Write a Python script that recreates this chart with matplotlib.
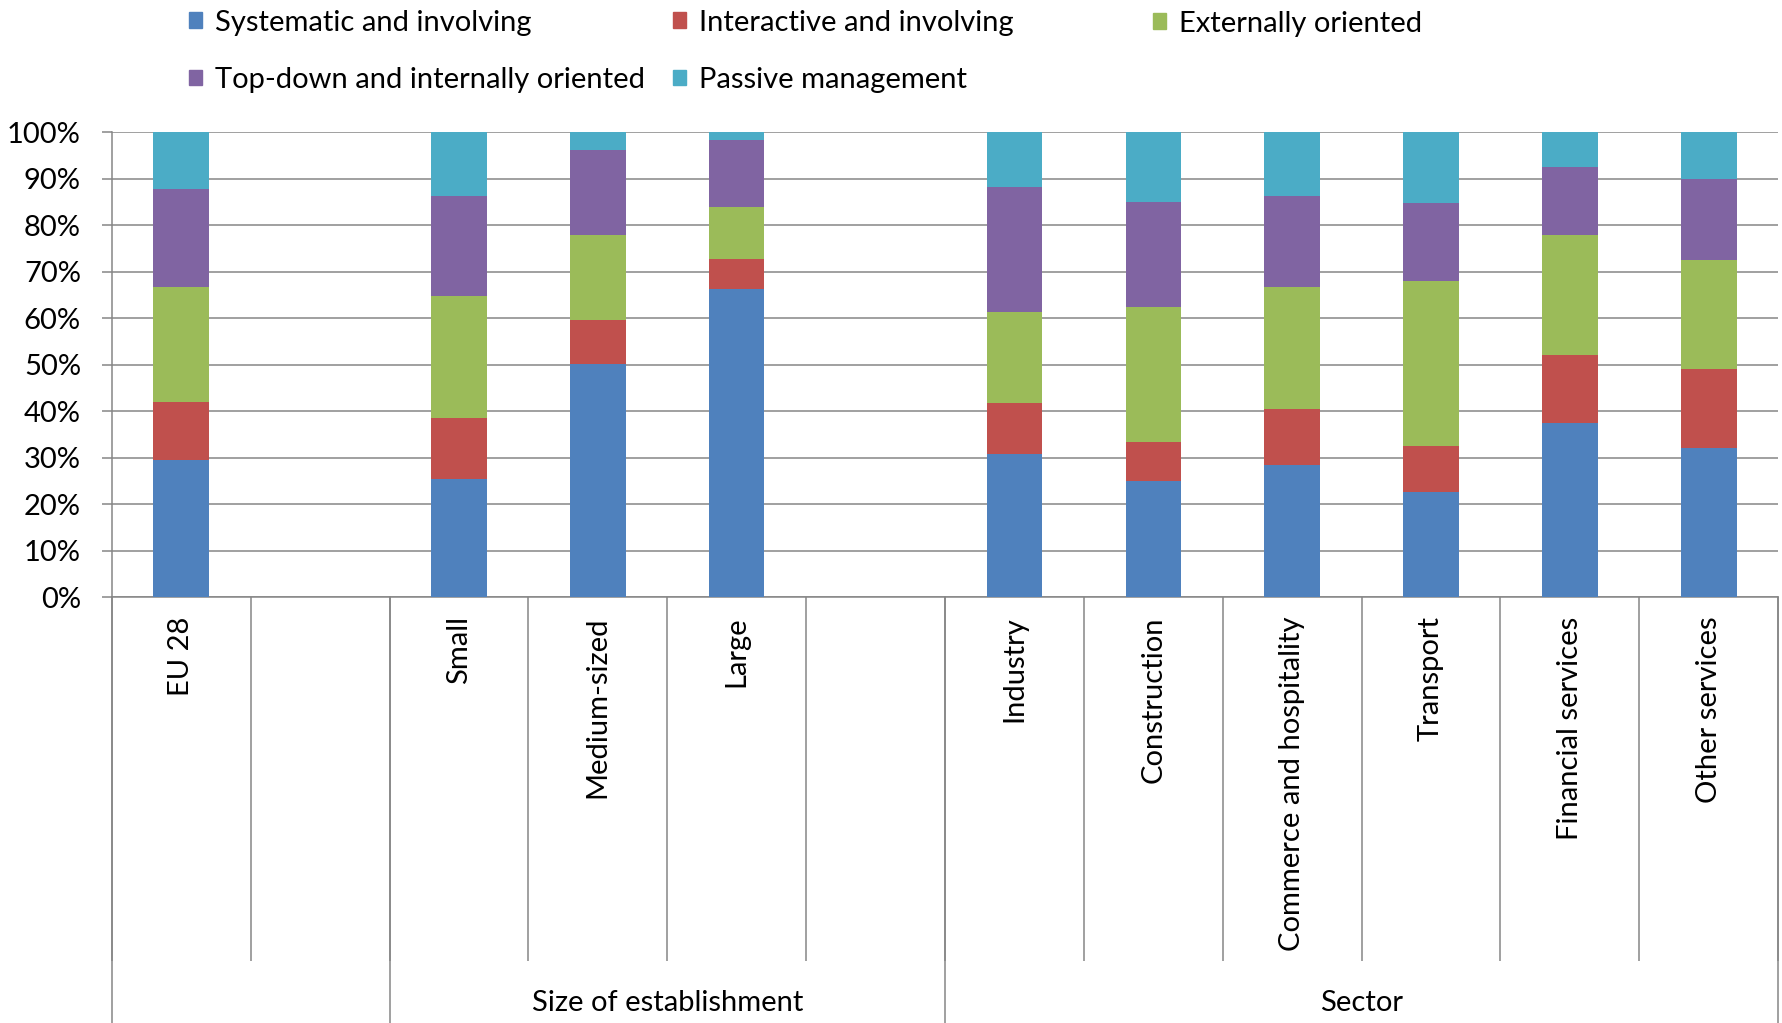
"""
Stacked 100% bar chart: management styles by establishment size and sector
"""

import matplotlib
matplotlib.use('Agg')
import matplotlib.pyplot as plt
import matplotlib.transforms as mtransforms
from matplotlib.patches import Patch
import numpy as np

plt.rcParams['font.family'] = ['Lato', 'DejaVu Sans']

# Category slots ('' = empty gap slot in the Excel layout)
categories = ['EU 28', '', 'Small', 'Medium-sized', 'Large', '',
              'Industry', 'Construction', 'Commerce and hospitality',
              'Transport', 'Financial services', 'Other services']

series_names = ['Systematic and involving', 'Interactive and involving',
                'Externally oriented', 'Top-down and internally oriented',
                'Passive management']

nan = np.nan
systematic = [29.5, nan, 25.5, 50.2, 66.2, nan, 30.8, 24.9, 28.4, 22.7, 37.4, 32.0]
interactive = [12.5, nan, 13.1, 9.5, 6.6, nan, 10.9, 8.5, 12.0, 9.9, 14.6, 17.0]
external = [24.7, nan, 26.1, 18.1, 11.1, nan, 19.7, 29.1, 26.3, 35.4, 26.0, 23.5]
topdown = [21.0, nan, 21.5, 18.4, 14.5, nan, 26.9, 22.6, 19.5, 16.7, 14.5, 17.5]
passive = [12.3, nan, 13.8, 3.8, 1.6, nan, 11.7, 14.9, 13.8, 15.3, 7.5, 10.0]

groups = ['Size of establishment', 'Sector']
group_spans = [(2, 6), (6, 12)]   # slot ranges
group_edges = [0, 2, 6, 12]

colors = ['#4F81BD', '#C0504D', '#9BBB59', '#8064A2', '#4BACC6']
grey = '#868686'
fs = 21

fig = plt.figure(figsize=(17.83, 10.23), dpi=100)
ax = fig.add_axes([0.0627, 0.4164, 0.9346, 0.4543])

x = np.arange(len(categories)) + 0.5
bottom = np.zeros(len(categories))
for vals, name, col in zip([systematic, interactive, external, topdown, passive],
                           series_names, colors):
    v = np.array(vals, dtype=float)
    ax.bar(x, v, width=0.4, bottom=bottom, color=col, label=name, zorder=3)
    bottom = bottom + np.nan_to_num(v)

ax.set_xlim(0, len(categories))
ax.set_ylim(0, 100)
ax.set_yticks(np.arange(0, 101, 10))
ax.set_yticklabels([f'{v}%' for v in range(0, 101, 10)], fontsize=fs)
ax.grid(axis='y', color=grey, linewidth=1.1, zorder=0)
ax.set_axisbelow(True)

for side in ['top', 'right']:
    ax.spines[side].set_visible(False)
for side in ['left', 'bottom']:
    ax.spines[side].set_color(grey)
    ax.spines[side].set_linewidth(1.1)

ax.tick_params(axis='y', length=7.2, width=1.1, color=grey, pad=15)
ax.set_xticks(x)
ax.set_xticklabels(categories, rotation=90, fontsize=fs)
ax.tick_params(axis='x', which='major', length=0, pad=14)
ax.set_xticks(np.arange(0, len(categories) + 1), minor=True)
ax.tick_params(axis='x', which='minor', length=262, width=1.1, color=grey)

# Longer separators between the group blocks
ax_h = 464.7
for e in group_edges:
    ax.axvline(e, ymin=-(1023 - 597) / ax_h, ymax=0, color=grey,
               linewidth=1.1, clip_on=False)

trans = mtransforms.blended_transform_factory(ax.transData, fig.transFigure)
for name, (a, b) in zip(groups, group_spans):
    ax.text((a + b) / 2, 0.0196, name, transform=trans, ha='center',
            va='center', fontsize=fs)

# Legend laid out like Excel: three columns, row-wise order
handles = [Patch(color=c) for c in colors]
legend_cols = [([0, 3], 0.106, 0.950), ([1, 4], 0.3775, 0.950), ([2], 0.6467, 0.977)]
for idx, lx, ly in legend_cols:
    fig.legend([handles[i] for i in idx], [series_names[i] for i in idx],
               loc='center left', bbox_to_anchor=(lx, ly), frameon=False,
               fontsize=fs, handlelength=0.45, handleheight=0.45,
               handletextpad=0.45, borderpad=0, borderaxespad=0,
               labelspacing=1.07)

plt.savefig('out.png', dpi=100, facecolor='white')
plt.close()
